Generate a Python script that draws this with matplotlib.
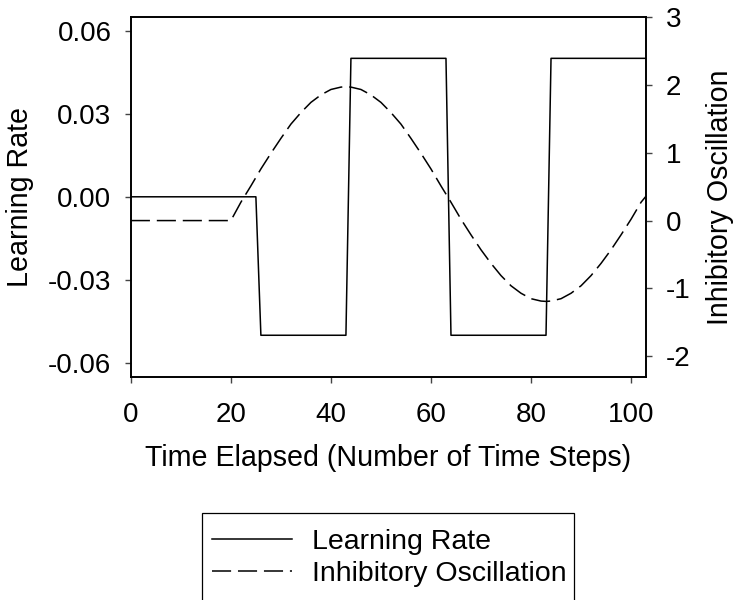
import matplotlib
matplotlib.use("Agg")
import matplotlib.pyplot as plt
from matplotlib.patches import Rectangle

plt.rcParams['font.family'] = ['Liberation Sans', 'DejaVu Sans']
plt.rcParams['font.size'] = 20

# learning rate (step changes between time steps)
lr_t = [0, 25, 26, 43, 44, 63, 64, 83, 84, 103]
lr_v = [0.0, 0.0, -0.05, -0.05, 0.05, 0.05, -0.05, -0.05, 0.05, 0.05]

# inhibitory oscillation
osc_t = [0, 20, 22, 24, 26, 28, 30, 32, 34, 36, 38, 40, 42, 43, 44, 46, 48, 50,
         52, 54, 56, 58, 60, 62, 64, 66, 68, 70, 72, 74, 76, 78, 80, 82, 83, 84,
         86, 88, 90, 92, 94, 96, 98, 100, 102, 103]
osc_v = [0.0, 0.0, 0.27, 0.51, 0.76, 0.99, 1.21, 1.42, 1.59, 1.74, 1.85, 1.93, 1.965, 1.97, 1.965, 1.93, 1.85, 1.74,
         1.59, 1.42, 1.21, 0.99, 0.76, 0.51, 0.27, 0.02, -0.21, -0.43, -0.63, -0.81, -0.96, -1.07, -1.15, -1.185, -1.19, -1.185,
         -1.15, -1.07, -0.96, -0.81, -0.63, -0.43, -0.21, 0.02, 0.27, 0.36]

fig = plt.figure(figsize=(7.35, 6), dpi=100)
ax = fig.add_axes([0.178, 0.372, 0.701, 0.600])
ax2 = ax.twinx()

l1, = ax.plot(lr_t, lr_v, color='black', lw=1.1, label='Learning Rate')
l2, = ax2.plot(osc_t, osc_v, color='black', lw=1.1, dashes=(12.5, 4.5), label='Inhibitory Oscillation')

ax.set_xlim(0, 103)
ax.set_ylim(-0.065, 0.065)
ax2.set_ylim(-2.3, 3)
ax.set_xticks([0, 20, 40, 60, 80, 100])
ax.set_yticks([0.06, 0.03, 0.0, -0.03, -0.06])
ax.set_yticklabels(['0.06', '0.03', '0.00', '-0.03', '-0.06'])
ax2.set_yticks([3, 2, 1, 0, -1, -2])
ax2.set_yticklabels(['3', '2', '1', '0', '-1', '-2'])

for a in (ax, ax2):
    for s in a.spines.values():
        s.set_linewidth(1.2)
    a.tick_params(direction='out', length=4, width=1, color='#444444', labelsize=20, pad=10)
ax.tick_params(axis='x', pad=14)

ax.set_xlabel('Time Elapsed (Number of Time Steps)', fontsize=20.6, labelpad=12)
ax.set_ylabel('Learning Rate', fontsize=20.6, labelpad=10)
ax2.set_ylabel('Inhibitory Oscillation', fontsize=20.6, labelpad=11)

# legend: box runs to the bottom edge of the figure
leg = fig.legend(handles=[l1, l2], loc='upper left', bbox_to_anchor=(0.2884, 0.118),
                 fontsize=20.5, handlelength=2.8, handletextpad=0.73, frameon=False,
                 borderpad=0.0, labelspacing=0.2, borderaxespad=0.0)
fig.patches.append(Rectangle((0.2748, -0.01), 0.506, 0.155, transform=fig.transFigure,
                             fill=False, edgecolor='black', lw=0.9))

fig.savefig('out.png', dpi=100)
